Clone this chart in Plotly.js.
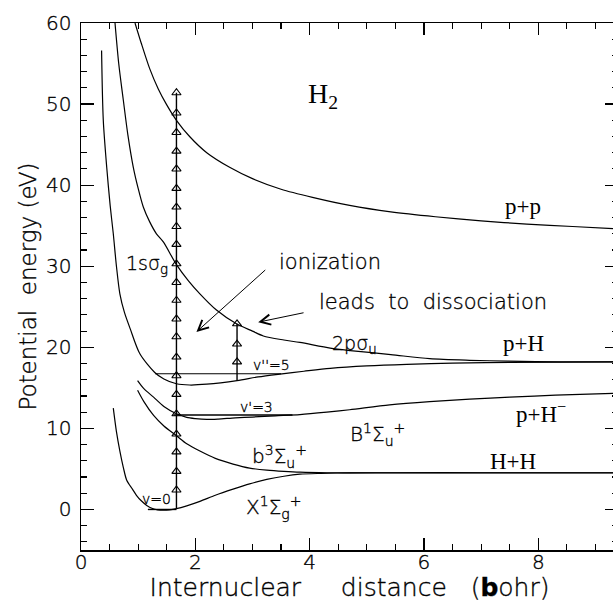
<!DOCTYPE html>
<html>
<head>
<meta charset="utf-8">
<script src="https://cdn.plot.ly/plotly-3.0.1.min.js"></script>
<style>
html,body{margin:0;padding:0;overflow:hidden;background:#fff;}
#chart{width:620px;height:602px;}
#chart text[style*="DejaVu"]{stroke:#000;stroke-width:0.35px;}
</style>
</head>
<body>
<div id="chart"></div>
<script>
// ---- data (R in bohr, E in eV) ----
const R_X1Sg = [0.565,0.62,0.68,0.74,0.80,0.90,0.97,1.05,1.15,1.25,1.34,1.44,1.55,1.67,1.85,2.08,2.35,2.66,2.95,3.25,3.55,3.83,4.2,4.71,5.5,7.0,9.4];
const E_X1Sg = [12.5,9.6,7.2,5.2,3.6,2.5,1.75,1.1,0.5,0.12,-0.05,-0.1,-0.05,0.1,0.45,1.0,1.75,2.5,3.15,3.7,4.1,4.35,4.45,4.52,4.53,4.53,4.53];

const R_b3Su = [0.99,1.1,1.27,1.45,1.67,1.85,2.08,2.35,2.66,2.95,3.25,3.55,3.83,4.3,4.71,6.0,9.4];
const E_b3Su = [14.7,13.3,11.6,10.3,9.1,8.1,7.2,6.3,5.6,5.1,4.85,4.7,4.6,4.53,4.52,4.52,4.52];

const R_B1Su = [0.99,1.1,1.27,1.45,1.67,1.85,2.0,2.2,2.4,2.7,3.0,3.4,3.83,4.3,4.7,5.4,6.1,6.8,7.5,8.3,9.4];
const E_B1Su = [15.9,14.9,13.85,12.7,11.8,11.35,11.2,11.1,11.15,11.3,11.4,11.55,11.7,12.0,12.3,12.9,13.3,13.6,13.85,14.1,14.35];

const R_1sSg = [0.36,0.39,0.45,0.51,0.565,0.62,0.68,0.76,0.86,1.03,1.29,1.45,1.67,1.9,2.2,2.73,3.1,3.48,3.9,4.36,5.0,5.7,6.5,7.5,9.4];
const E_1sSg = [56.6,48.0,42.2,37.5,34.0,30.0,26.6,24.3,22.3,19.2,16.9,16.1,15.5,15.35,15.45,15.9,16.35,16.7,17.05,17.4,17.7,17.9,18.05,18.15,18.2];

const R_2pSu = [0.595,0.66,0.74,0.82,0.915,1.0,1.09,1.2,1.32,1.44,1.67,1.88,2.08,2.37,2.72,3.0,3.19,3.55,3.83,4.36,4.71,5.42,6.1,6.8,7.47,8.4,9.4];
const E_2pSu = [60,55,50.5,46.2,42.2,39.6,37.3,35.5,34.0,33.0,30.2,28.2,26.6,24.6,22.9,22.0,21.4,20.9,20.6,19.9,19.6,19.1,18.6,18.4,18.3,18.2,18.2];

const R_pp = [0.945,1.05,1.2,1.35,1.5,1.67,1.9,2.2,2.6,3.0,3.5,4.05,4.7,5.42,6.2,7.0,7.8,8.6,9.4];
const E_pp = [60,57.6,54.4,51.9,49.9,48.0,46.0,44.0,42.2,40.8,39.5,38.5,37.5,36.7,36.1,35.6,35.2,34.9,34.6];

// vibrational levels
const R_v0 = [1.17,1.67];   const E_v0 = [0.0,0.0];
const R_v3 = [1.62,3.7];    const E_v3 = [11.65,11.65];
const R_v5 = [1.295,3.5];   const E_v5 = [16.74,16.74];

// photon ladders (triangles)
const R_lad1 = 1.67;
const E_lad1 = [2.4,4.7,7.1,9.3,11.8,14.2,16.5,18.8,21.3,23.5,25.8,28.0,30.3,32.7,34.9,37.3,39.6,42.0,44.2,46.5,48.9,51.4];
const E_lad1_base = 0.1;
const R_lad2 = 2.73;
const E_lad2 = [18.2,20.4,22.9];
const E_lad2_base = 15.9;

// tick values
const xTicks = [0,2,4,6,8];
const yTicks = [0,10,20,30,40,50,60];

// ---- build traces ----
const lineStyle = {color:'#000', width:1.2, shape:'spline', smoothing:0.8};
function curve(x,y,extra){
  return Object.assign({x:x, y:y, mode:'lines', type:'scatter', hoverinfo:'skip',
    line:Object.assign({}, lineStyle, extra||{})});
}
const traces = [
  curve(R_X1Sg,E_X1Sg),
  curve(R_b3Su,E_b3Su),
  curve(R_B1Su,E_B1Su),
  curve(R_1sSg,E_1sSg),
  curve(R_2pSu,E_2pSu),
  curve(R_pp,E_pp),
  curve(R_v0,E_v0,{shape:'linear', width:1.4}),
  curve(R_v3,E_v3,{shape:'linear', width:1.4}),
  curve(R_v5,E_v5,{shape:'linear', width:1.2}),
  curve([R_lad1,R_lad1],[E_lad1_base,E_lad1[E_lad1.length-1]],{shape:'linear', width:1.4}),
  {x:E_lad1.map(()=>R_lad1), y:E_lad1, mode:'markers', type:'scatter', hoverinfo:'skip',
   marker:{symbol:'triangle-up-open', size:8, color:'#000', line:{width:1.1, color:'#000'}}},
  curve([R_lad2,R_lad2],[E_lad2_base,E_lad2[E_lad2.length-1]],{shape:'linear', width:1.4}),
  {x:E_lad2.map(()=>R_lad2), y:E_lad2, mode:'markers', type:'scatter', hoverinfo:'skip',
   marker:{symbol:'triangle-up-open', size:8, color:'#000', line:{width:1.1, color:'#000'}}}
];

const SANS = 'DejaVu Sans, sans-serif';
const SERIF = 'Liberation Serif, Times New Roman, serif';
function lab(text,x,y,size,family){
  return {text:text, x:x, y:y, xref:'x', yref:'y', showarrow:false,
    xanchor:'center', yanchor:'middle',
    font:{family:family||SANS, size:size, color:'#000', weight:200}};
}
const annotations = [
  lab('H<sub>2</sub>', 4.24, 51.0, 28, SERIF),
  lab('p+p', 7.73, 37.4, 23, SERIF),
  lab('p+H', 7.75, 20.5, 23, SERIF),
  lab('p+H<sup>\u2212</sup>', 8.05, 11.9, 23, SERIF),
  lab('H+H', 7.55, 5.9, 23, SERIF),
  lab('1s\u03c3<sub>g</sub>', 1.15, 30.2, 19),
  lab('2p\u03c3<sub>u</sub>', 4.79, 20.4, 19),
  lab("v''=5", 3.34, 17.85, 14),
  lab("v'=3", 3.07, 12.6, 14),
  lab('v=0', 1.32, 1.3, 14),
  lab('B<sup>1</sup>\u03a3<sub>u</sub><sup>+</sup>', 5.18, 9.3, 20),
  lab('b<sup>3</sup>\u03a3<sub>u</sub><sup>+</sup>', 3.47, 6.5, 20),
  lab('X<sup>1</sup>\u03a3<sub>g</sub><sup>+</sup>', 3.37, 0.3, 20),
  lab('ionization', 4.36, 30.5, 21),
  lab('leads\u00a0\u00a0to\u00a0\u00a0dissociation', 6.16, 25.6, 21),
  {x:2.02, y:21.9, ax:3.25, ay:29.7, xref:'x', yref:'y', axref:'x', ayref:'y', text:'',
   showarrow:true, arrowhead:5, arrowsize:2, arrowwidth:1, arrowcolor:'#000', standoff:0},
  {x:3.10, y:23.1, ax:3.92, ay:24.3, xref:'x', yref:'y', axref:'x', ayref:'y', text:'',
   showarrow:true, arrowhead:5, arrowsize:2, arrowwidth:1, arrowcolor:'#000', standoff:0}
];

const tickFont = {family:SANS, size:20, color:'#000', weight:200};
const layout = {
  width:620, height:602,
  margin:{l:81, r:2, t:23, b:52},
  paper_bgcolor:'#fff', plot_bgcolor:'#fff',
  showlegend:false,
  xaxis:{range:[0,9.395], tickvals:xTicks, ticktext:xTicks.map(String),
    ticks:'inside', ticklen:12, tickwidth:1.3, tickcolor:'#000',
    minor:{dtick:0.5, tick0:0, ticks:'inside', ticklen:6, tickwidth:1.1, tickcolor:'#000', showgrid:false},
    showline:true, linewidth:1.5, linecolor:'#000', mirror:'allticks',
    showgrid:false, zeroline:false, tickfont:tickFont, ticklabelstandoff:-7,
    title:{text:'Internuclear\u00a0\u00a0\u00a0\u00a0\u00a0distance\u00a0\u00a0\u00a0(<b>b</b>ohr)', font:{family:SANS, size:25, color:'#000', weight:200}, standoff:17}},
  yaxis:{range:[-5,60], tickvals:yTicks, ticktext:yTicks.map(String),
    ticks:'inside', ticklen:13, tickwidth:1.3, tickcolor:'#000',
    minor:{dtick:2, tick0:0, ticks:'inside', ticklen:6, tickwidth:1.1, tickcolor:'#000', showgrid:false},
    showline:true, linewidth:1.5, linecolor:'#000', mirror:'allticks',
    showgrid:false, zeroline:false, tickfont:tickFont, ticklabelstandoff:4,
    title:{text:'Potential\u00a0\u00a0energy\u00a0(eV)', font:{family:SANS, size:23, color:'#000', weight:200}, standoff:3}},
  annotations:annotations
};
Plotly.newPlot('chart', traces, layout, {staticPlot:true, displayModeBar:false});
</script>
</body>
</html>
